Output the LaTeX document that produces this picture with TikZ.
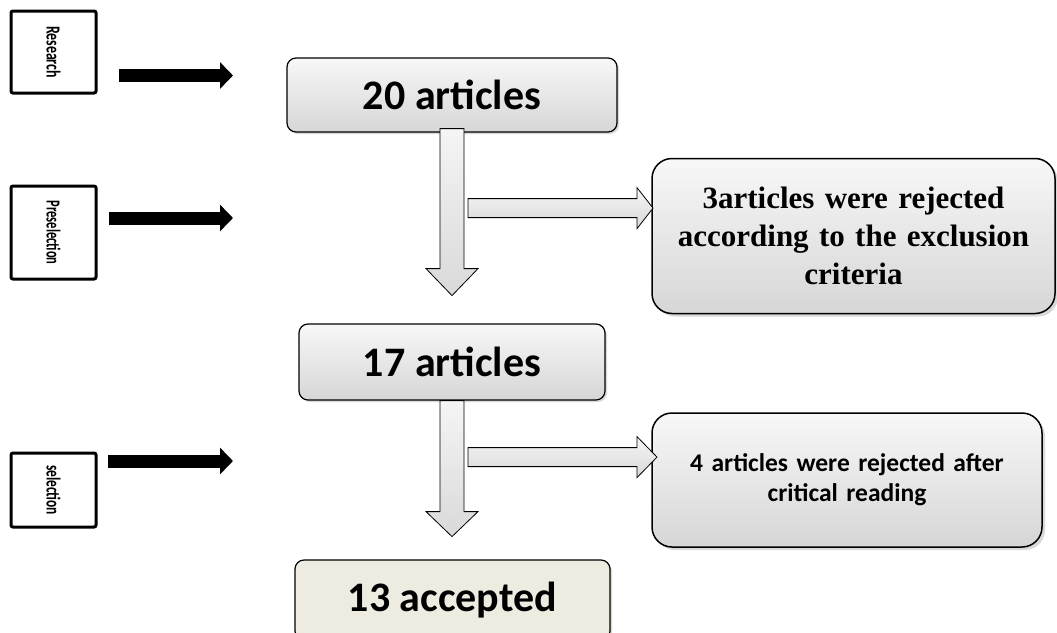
\documentclass[tikz,border=0pt]{standalone}
\usepackage{fontspec}
\setmainfont{Carlito}
\newfontfamily\serifbold{Liberation Serif}
\usetikzlibrary{calc,positioning,shadows,arrows.meta}
\definecolor{paper}{HTML}{EEEBE0}

\begin{document}
\begin{tikzpicture}[x=1pt,y=-1pt,
	stagebox/.style={draw,line width=3pt,rounded corners=2pt,minimum width=85pt,inner sep=0pt},
	acceptbox/.style={draw,line width=1.2pt,rounded corners=9pt,
		drop shadow={opacity=0.3,shadow xshift=2pt,shadow yshift=-2pt},font=\fontsize{42}{48}\selectfont\bfseries},
	countbox/.style={acceptbox,top color=gray!6,bottom color=gray!32},
	rejectbox/.style={draw,line width=1.5pt,rounded corners=20pt,top color=gray!6,bottom color=gray!32,
		drop shadow={opacity=0.3,shadow xshift=3pt,shadow yshift=-3pt},align=center},
	blockarrow/.style={draw,line width=0.8pt,top color=gray!8,bottom color=gray!30},
	bigarrow/.style={line width=13pt,-{Triangle[length=13pt,width=26pt]}}
	]
	\useasboundingbox (0,0) rectangle (1057,632);

	\node[stagebox,minimum height=82pt] (st1) at (53.5,52) {\rotatebox{-90}{\resizebox{52pt}{14pt}{\bfseries Research}}};
	\node[stagebox,minimum height=93pt] (st2) at (53.5,232.5) {\rotatebox{-90}{\resizebox{64pt}{14pt}{\bfseries Preselection}}};
	\node[stagebox,minimum height=74pt] (st3) at (53.5,490) {\rotatebox{-90}{\resizebox{50pt}{14pt}{\bfseries selection}}};

	\coordinate (g1) at (119,75.5);
	\coordinate (h1) at (233,75.5);
	\coordinate (g2) at (109,218);
	\coordinate (h2) at (233,218);
	\coordinate (g3) at (108,461);
	\coordinate (h3) at (233,461);

	\draw[bigarrow] (g1) -- (h1);
	\draw[bigarrow] (g2) -- (h2);
	\draw[bigarrow] (g3) -- (h3);

	\node[countbox,minimum width=330pt,minimum height=74pt] (art20) at (452,95) {20 articles};
	\node[countbox,minimum width=306pt,minimum height=76pt] (art17) at (452,362) {17 articles};
	\node[acceptbox,fill=paper,minimum width=315pt,minimum height=80pt] (acc13) at (452.5,600) {13 accepted};

	\node[rejectbox,minimum width=403pt,minimum height=155pt,text width=385pt,
		font=\serifbold\bfseries\fontsize{31}{38}\selectfont] (rej3) at (853.5,236) {3articles were rejected\\according to the exclusion\\criteria};
	\node[rejectbox,minimum width=390pt,minimum height=134pt,text width=370pt,
		font=\bfseries\fontsize{25.5}{30}\selectfont] (rej4) at (847,480) {4 articles were rejected after\\critical reading};

	\draw[blockarrow] ($(art20.south)+(-12,-4)$) -- ++(0,140) -- ++(-14,0) -- ++(26,27) -- ++(26,-27) -- ++(-14,0) -- ++(0,-140) -- cycle;
	\draw[blockarrow] ($(art20.south)+(16,66)$) -- ++(169,0) -- ++(0,-11) -- ++(16,20.5) -- ++(-16,20.5) -- ++(0,-11) -- ++(-169,0) -- cycle;

	\draw[blockarrow] ($(art17.south)+(-12,0)$) -- ++(0,111) -- ++(-14,0) -- ++(26,25) -- ++(26,-25) -- ++(-14,0) -- ++(0,-111) -- cycle;
	\draw[blockarrow] ($(art17.south)+(16,47)$) -- ++(169,0) -- ++(0,-11) -- ++(20,20.5) -- ++(-20,20.5) -- ++(0,-11) -- ++(-169,0) -- cycle;
\end{tikzpicture}
\end{document}
